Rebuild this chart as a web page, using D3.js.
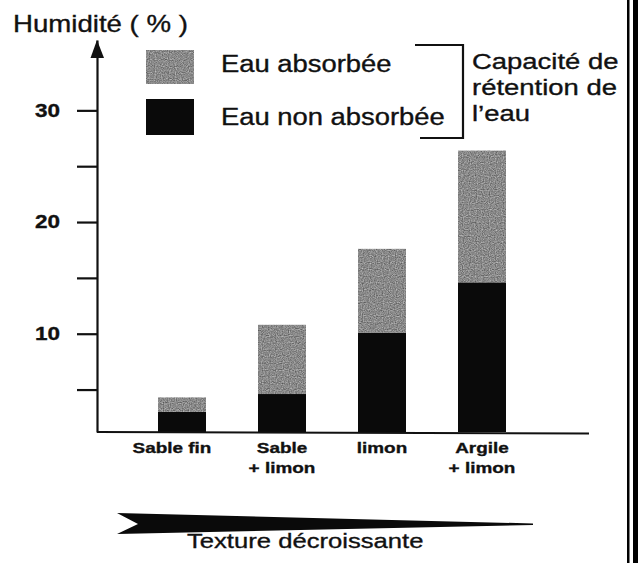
<!DOCTYPE html>
<html>
<head>
<meta charset="utf-8">
<script src="https://cdn.jsdelivr.net/npm/d3@7"></script>
<style>
  body { margin: 0; background: #fff; }
  svg text { font-family: "Liberation Sans", Arial, sans-serif; fill: #111; stroke: #111; stroke-width: 0.35px; }
</style>
</head>
<body>
<div id="chart"></div>
<script>
// valeurs (humidité en %)
const categories = ["Sable fin", "Sable + limon", "limon", "Argile + limon"];
const eauNonAbsorbee = [3.0, 4.6, 10.1, 14.6];
const eauAbsorbee = [1.3, 6.2, 7.5, 11.8];
const yTicks = [5, 10, 15, 20, 25, 30];
const yTickLabels = [10, 20, 30];
const legendLabels = ["Eau absorbée", "Eau non absorbée"];
const bracketLines = ["Capacité de", "rétention de", "l’eau"];

let width = 638, height = 563;
let svg = d3.select("#chart").append("svg").attr("width", width).attr("height", height);

// grainy grey like the printed screen
let grain = svg.append("defs").append("filter").attr("id", "grain")
  .attr("color-interpolation-filters", "sRGB")
  .attr("x", 0).attr("y", 0).attr("width", 1).attr("height", 1);
grain.append("feTurbulence").attr("type", "fractalNoise").attr("baseFrequency", 0.85)
  .attr("numOctaves", 1).attr("seed", 3).attr("result", "noise");
grain.append("feColorMatrix").attr("in", "noise").attr("type", "saturate").attr("values", 0).attr("result", "grey");
let ct = grain.append("feComponentTransfer").attr("in", "grey").attr("result", "tone");
["feFuncR", "feFuncG", "feFuncB"].forEach(function(f) {
  ct.append(f).attr("type", "linear").attr("slope", 0.8).attr("intercept", 0.14);
});
ct.append("feFuncA").attr("type", "linear").attr("slope", 0).attr("intercept", 1);
grain.append("feComposite").attr("in", "tone").attr("in2", "SourceGraphic").attr("operator", "in");

// the scanned lettering is wider than Arial, stretch it a bit
function stretch(sel, k) {
  sel.each(function() {
    let w = this.getComputedTextLength();
    d3.select(this).attr("textLength", w * k).attr("lengthAdjust", "spacingAndGlyphs");
  });
}

let x = d3.scaleBand()
  .domain(categories)
  .range([106, 558])
  .padding(0.52);

let y = d3.scaleLinear()
  .domain([1.2, 36.3])
  .range([432, 40])
  .clamp(true);

let rows = categories.map(function(c, i) {
  return { cat: c, nonAbs: eauNonAbsorbee[i], abs: eauAbsorbee[i] };
});
let series = d3.stack().keys(["nonAbs", "abs"])(rows);
let colorMap = { nonAbs: "#0a0a0a", abs: "#8b8b8b" };

svg.append("g").selectAll("g")
  .data(series)
  .enter().append("g")
  .attr("fill", function(d) { return colorMap[d.key]; })
  .attr("filter", function(d) { return d.key === "abs" ? "url(#grain)" : null; })
  .selectAll("rect")
  .data(function(d) { return d; })
  .enter().append("rect")
  .attr("x", function(d) { return x(d.data.cat); })
  .attr("width", x.bandwidth())
  .attr("y", function(d) { return y(d[1]); })
  .attr("height", function(d) { return y(d[0]) - y(d[1]); });

// y axis
let yAxis = svg.append("g")
  .attr("transform", "translate(97,0)")
  .call(d3.axisLeft(y)
    .tickValues(yTicks)
    .tickSize(20)
    .tickSizeOuter(0)
    .tickPadding(17)
    .tickFormat(function(d) { return yTickLabels.includes(d) ? d : ""; }));
yAxis.select(".domain").attr("stroke", "#111").attr("stroke-width", 2.2);
yAxis.selectAll(".tick line").attr("stroke", "#111").attr("stroke-width", 2.2);
yAxis.selectAll(".tick text")
  .style("font-size", "18px").style("font-weight", "bold")
  .attr("fill", "#111")
  .call(stretch, 1.25);

// arrow head on y axis
svg.append("path")
  .attr("d", "M97,40 L90.5,58 L104,58 Z")
  .attr("fill", "#111");

svg.append("text")
  .attr("x", 13).attr("y", 32)
  .style("font-size", "24px")
  .text("Humidité ( % )")
  .call(stretch, 1.15);

// x axis
svg.append("line")
  .attr("x1", 97).attr("x2", 589)
  .attr("y1", y.range()[0]).attr("y2", y.range()[0] + 1.5)
  .attr("stroke", "#111").attr("stroke-width", 2.2);

let labels = svg.append("g").selectAll("text")
  .data(categories)
  .enter().append("text")
  .attr("text-anchor", "middle")
  .style("font-size", "15.5px").style("font-weight", "bold");
labels.each(function(d, k) {
  let parts = d.split(" + ");
  let t = d3.select(this);
  parts.forEach(function(p, i) {
    t.append("tspan")
      .attr("x", x(d) + x.bandwidth() / 2 - (k === 0 ? 10 : 0))
      .attr("y", 453 + i * 20)
      .text(i > 0 ? "+ " + p : p);
  });
});
labels.selectAll("tspan").call(stretch, 1.22);

// legend
let legendColors = [colorMap.abs, colorMap.nonAbs];
let legend = svg.append("g").selectAll("g")
  .data(legendLabels)
  .enter().append("g")
  .attr("transform", function(d, i) { return "translate(146," + (50 + i * 49) + ")"; });
legend.append("rect")
  .attr("width", 48).attr("height", function(d, i) { return i ? 36 : 34; })
  .attr("fill", function(d, i) { return legendColors[i]; })
  .attr("filter", function(d, i) { return i ? null : "url(#grain)"; });
legend.append("text")
  .attr("x", 75).attr("y", function(d, i) { return i ? 26 : 22; })
  .style("font-size", "23px")
  .text(function(d) { return d; })
  .call(stretch, 1.19);

// bracket
svg.append("path")
  .attr("d", "M415,45 H463 V138 H420")
  .attr("fill", "none").attr("stroke", "#111").attr("stroke-width", 2.2);

svg.append("g").selectAll("text")
  .data(bracketLines)
  .enter().append("text")
  .attr("x", 472)
  .attr("y", function(d, i) { return 68.5 + i * 26; })
  .style("font-size", "22.5px")
  .text(function(d) { return d; })
  .call(stretch, 1.22);

// texture arrow
svg.append("path")
  .attr("d", "M117,513 L533,523.5 L533,525 L117,534 L138,524 Z")
  .attr("fill", "#0a0a0a");

svg.append("text")
  .attr("x", 187).attr("y", 548)
  .style("font-size", "21px")
  .text("Texture décroissante")
  .call(stretch, 1.22);

// frame on the right edge
svg.append("rect").attr("x", 627).attr("y", 0).attr("width", 2.5).attr("height", height).attr("fill", "#000");
svg.append("rect").attr("x", 633).attr("y", 0).attr("width", 5).attr("height", height).attr("fill", "#000");
</script>
</body>
</html>
